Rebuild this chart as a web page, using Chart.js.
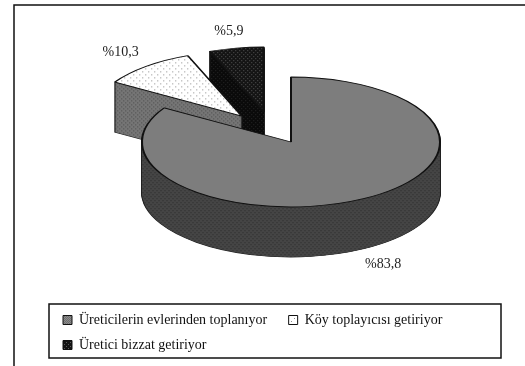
<!DOCTYPE html>
<html>
<head>
<meta charset="utf-8">
<style>
  html, body { margin: 0; padding: 0; background: #fff; }
  canvas { display: block; }
</style>
<script src="https://cdn.jsdelivr.net/npm/chart.js@4"></script>
</head>
<body>
<canvas id="chart" width="525" height="366"></canvas>
<script>
const categories = ['Üreticilerin evlerinden toplanıyor', 'Köy toplayıcısı getiriyor', 'Üretici bizzat getiriyor'];
const values = [83.8, 10.3, 5.9];

// look of the tilted pie
const TILT = 0.436;
const DEPTH = 50;
const PIE_X = 291;
const PIE_Y = 142;
const RADIUS = 149;
const EXPLODE = [0, 77, 74];
const EXPLODE_SKEW = [0, 0, -11];
const FONT = '"Liberation Serif", "Times New Roman", serif';

function makeTile(base, dot, size, dots) {
  const tile = document.createElement('canvas');
  tile.width = size;
  tile.height = size;
  const t = tile.getContext('2d');
  t.fillStyle = base;
  t.fillRect(0, 0, size, size);
  t.fillStyle = dot;
  dots.forEach(d => t.fillRect(d[0], d[1], 1, 1));
  return tile;
}

const ctx = document.getElementById('chart').getContext('2d');
const pattern = tile => ctx.createPattern(tile, 'repeat');

const topTiles = [
  makeTile('#8c8c8c', '#6e6e6e', 2, [[0, 0], [1, 1]]),
  makeTile('#ffffff', '#8a8a8a', 6, [[0, 0], [3, 3]]),
  makeTile('#141414', '#5a5a5a', 4, [[0, 0], [2, 2]])
];
const wallTiles = [
  makeTile('#454545', '#2c2c2c', 4, [[0, 0], [2, 2]]),
  makeTile('#757575', '#4a4a4a', 4, [[0, 0], [2, 2]]),
  makeTile('#0a0a0a', '#2a2a2a', 4, [[0, 0], [2, 2]])
];

const topFills = topTiles.map(pattern);
const wallFills = wallTiles.map(pattern);
const legendFills = topTiles.map(pattern);

// patterns follow the canvas transform, so undo the squash on them
topFills.forEach(p => p.setTransform(new DOMMatrix().scale(1, 1 / TILT)));

function withOptions(arc, extra, fn) {
  const saved = arc.options;
  arc.options = Object.assign({}, saved, extra);
  fn();
  arc.options = saved;
}

function sliceShift(arc, i) {
  const mid = (arc.startAngle + arc.endAngle) / 2 + EXPLODE_SKEW[i] * Math.PI / 180;
  return [Math.cos(mid) * EXPLODE[i], Math.sin(mid) * EXPLODE[i]];
}

const tiltedPie = {
  id: 'tiltedPie',
  beforeDraw(chart) {
    const c = chart.ctx;
    c.save();
    c.fillStyle = '#fff';
    c.fillRect(0, 0, chart.width, chart.height);
    c.strokeStyle = '#111';
    c.lineWidth = 1.5;
    c.beginPath();
    c.moveTo(14, chart.height);
    c.lineTo(14, 5);
    c.lineTo(chart.width, 5);
    c.stroke();
    c.restore();
  },
  beforeDatasetsDraw(chart) {
    const c = chart.ctx;
    const arcs = chart.getDatasetMeta(0).data;

    // back slices first, the big one has to sit on top of them
    for (let i = arcs.length - 1; i >= 0; i--) {
      const arc = arcs[i];
      const shift = sliceShift(arc, i);
      c.save();
      c.translate(PIE_X, PIE_Y);
      c.scale(1, TILT);
      c.translate(shift[0] - arc.x, shift[1] - arc.y);

      // dark outline of the side wall
      withOptions(arc, { backgroundColor: '#222', borderColor: '#222', borderWidth: 2 }, () => {
        for (let d = DEPTH; d > 0; d--) {
          c.save();
          c.translate(0, d / TILT);
          arc.draw(c);
          c.restore();
        }
      });

      // side wall, one pixel at a time
      for (let d = DEPTH; d > 0; d--) {
        wallFills[i].setTransform(new DOMMatrix().translate(0, -d / TILT).scale(1, 1 / TILT));
        withOptions(arc, { backgroundColor: wallFills[i], borderWidth: 0 }, () => {
          c.save();
          c.translate(0, d / TILT);
          arc.draw(c);
          c.restore();
        });
      }

      // top face
      arc.draw(c);
      c.restore();
    }

    // value labels
    c.save();
    c.font = '14px ' + FONT;
    c.fillStyle = '#222';
    c.textAlign = 'center';
    c.textBaseline = 'middle';
    arcs.forEach((arc, i) => {
      const mid = (arc.startAngle + arc.endAngle) / 2;
      const shift = sliceShift(arc, i);
      const lx = PIE_X + shift[0] + Math.cos(mid) * RADIUS * 1.27;
      const ly = PIE_Y + shift[1] * TILT + Math.sin(mid) * RADIUS * 1.27 * TILT + (Math.sin(mid) > 0 ? DEPTH : 0);
      c.fillText('%' + String(values[i]).replace('.', ','), lx, ly);
    });
    c.restore();
    return false;
  },
  afterDraw(chart) {
    const c = chart.ctx;
    const l = chart.legend;
    c.save();
    c.strokeStyle = '#111';
    c.lineWidth = 1.5;
    c.strokeRect(l.left - 3, l.top + 2, l.width + 3, l.height - 6);
    c.restore();
  }
};

new Chart(ctx, {
  type: 'pie',
  data: {
    labels: categories,
    datasets: [{
      data: values,
      backgroundColor: topFills,
      borderColor: '#111',
      borderWidth: 2
    }]
  },
  options: {
    responsive: false,
    animation: false,
    radius: RADIUS,
    layout: { padding: { left: 52, right: 24, top: 0, bottom: 4 } },
    plugins: {
      tooltip: { enabled: false },
      legend: {
        position: 'bottom',
        align: 'start',
        labels: {
          boxWidth: 9,
          boxHeight: 9,
          padding: 11,
          color: '#111',
          font: { family: FONT, size: 14 },
          generateLabels(chart) {
            const items = Chart.overrides.pie.plugins.legend.labels.generateLabels(chart);
            items.forEach((item, i) => {
              item.fillStyle = legendFills[i];
              item.strokeStyle = '#111';
              item.lineWidth = 1;
              // wider gap before the second entry
              if (i === 0) item.text += '   ';
            });
            return items;
          }
        }
      }
    }
  },
  plugins: [tiltedPie]
});
</script>
</body>
</html>
